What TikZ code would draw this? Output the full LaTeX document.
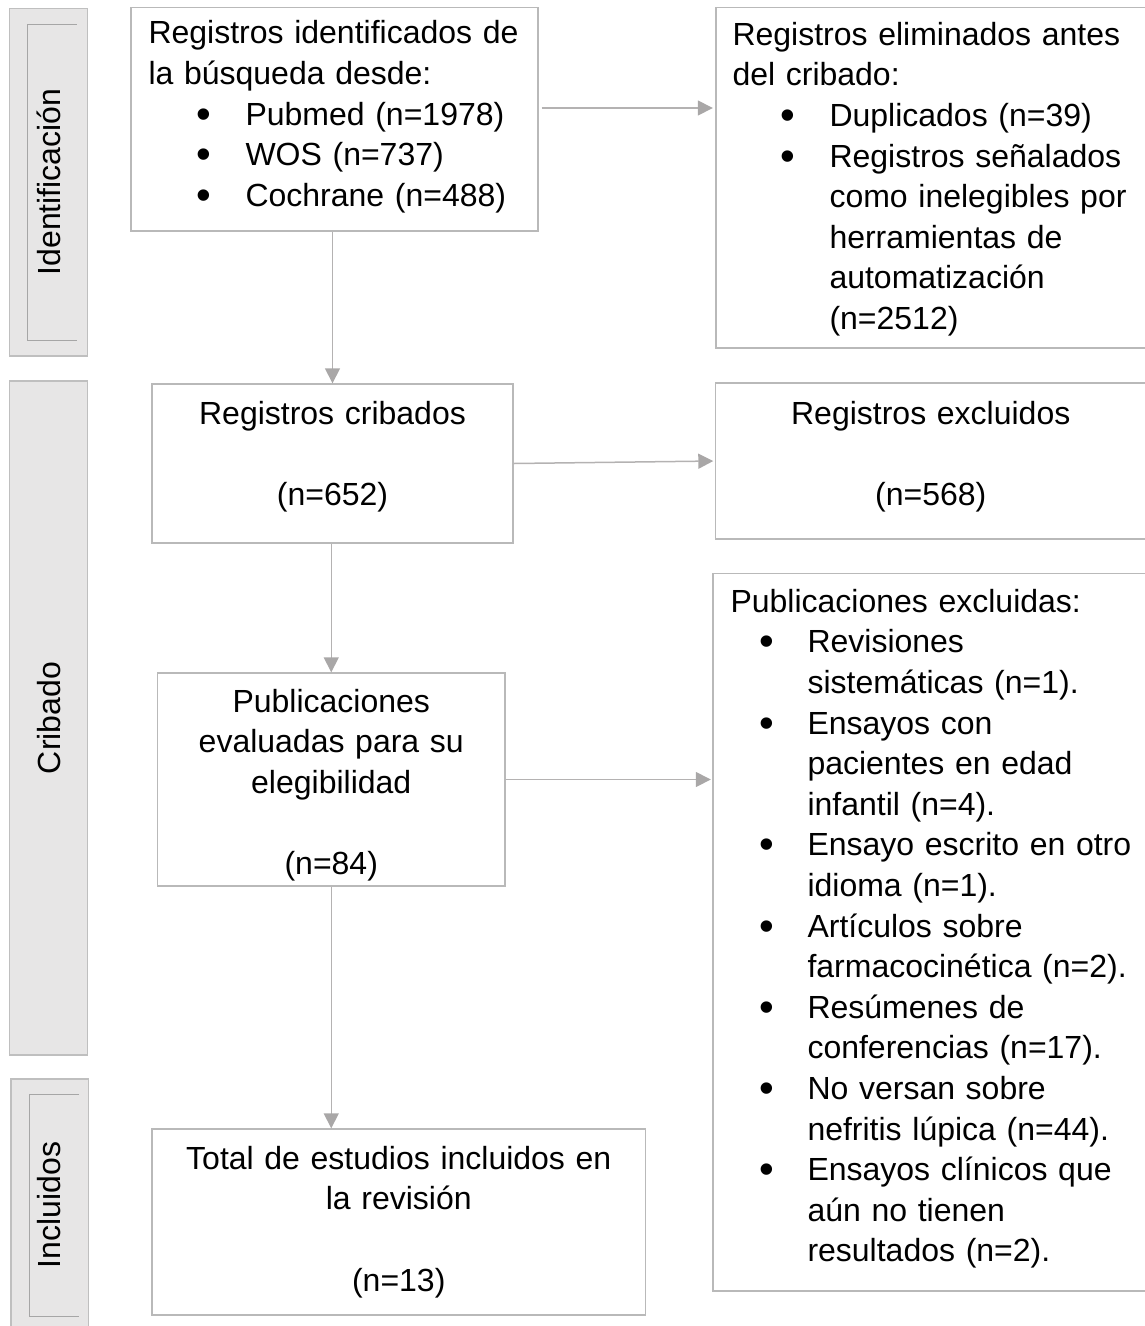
\documentclass[tikz,border=0pt]{standalone}
\usepackage{fontspec}
\setmainfont{Liberation Sans}
\usetikzlibrary{arrows.meta,positioning,calc}
\definecolor{Frame}{HTML}{B9B9B9}
\definecolor{Flow}{HTML}{B4B2B2}
\definecolor{FlowTip}{HTML}{A9A7A7}
\definecolor{Band}{HTML}{E7E6E6}
\definecolor{BandRim}{HTML}{BFBFBF}
\definecolor{Rule}{HTML}{A6A6A6}
\newcommand{\fs}{\fontsize{32}{40.6}\selectfont}
\newcommand{\bigdot}{\raisebox{-3pt}{\fontsize{42}{40}\selectfont\textbullet}}
\newcommand{\itmA}[1]{\mbox{\hspace*{48pt}\makebox[49pt][l]{\bigdot}#1}}
\newcommand{\contA}[1]{\mbox{\hspace*{97pt}#1}}
\newcommand{\itmB}[1]{\mbox{\hspace*{29pt}\makebox[48pt][l]{\bigdot}#1}}
\newcommand{\contB}[1]{\mbox{\hspace*{77pt}#1}}
\tikzset{
  box/.style={draw=Frame,line width=1.4pt,fill=white,inner sep=0pt},
  band/.style={draw=BandRim,line width=1.2pt,fill=Band,inner sep=0pt},
  bandlab/.style={font=\fs,rotate=90,anchor=base,inner sep=0pt},
  brk/.style={draw=Rule,line width=1pt},
  body/.style={font=\fs,align=left,anchor=base west,inner sep=0pt,text width=#1},
  mid/.style={font=\fs,align=center,anchor=base,inner sep=0pt,text width=#1},
  flow/.style={draw=Flow,line width=1.5pt,-{Triangle[length=15pt,width=15pt,color=FlowTip]}}
}

\begin{document}
\begin{tikzpicture}[x=1pt,y=-1pt]
  \useasboundingbox (0,0) rectangle (1145,1326);

  % phase bands
  \node[band,minimum width=78pt,minimum height=347.7pt] (idband) at (48.3,182.2) {};
  \node[band,minimum width=78pt,minimum height=674pt] (crband) at (48.3,718) {};
  \node[band,minimum width=77.3pt,minimum height=260pt] (inband) at (49.6,1209) {};
  \draw[brk] (76.7,24) -| (27.3,340) -- (76.7,340);
  \draw[brk] (79,1094) -| (29.3,1316) -- (79,1316);
  \node[bandlab] (idlab) at (60,182) {Identificación};
  \node[bandlab] (crlab) at (60,718) {Cribado};
  \node[bandlab] (inlab) at (60,1205) {Incluidos};

  % boxes
  \node[box,minimum width=407pt,minimum height=223.5pt] (ident) at (334.5,119.25) {};
  \node[box,minimum width=430pt,minimum height=340.5pt] (elim) at (931,177.75) {};
  \node[box,minimum width=361pt,minimum height=159pt] (scr) at (332.5,463.5) {};
  \node[box,minimum width=430.5pt,minimum height=156pt] (excl) at (930.75,461) {};
  \node[box,minimum width=347.5pt,minimum height=213pt] (eval) at (331.25,779.5) {};
  \node[box,minimum width=433pt,minimum height=717.5pt] (pubex) at (929.5,932.25) {};
  \node[box,minimum width=493.5pt,minimum height=186pt] (incl) at (398.75,1222) {};

  % texts
  \node[body=383pt] (identtxt) at ([shift={(18,37)}]ident.north west)
    {Registros identificados de\\ la búsqueda desde:\\ \itmA{Pubmed (n=1978)}\\
     \itmA{WOS (n=737)}\\ \itmA{Cochrane (n=488)}};
  \node[body=396pt] (elimtxt) at ([shift={(17,38.5)}]elim.north west)
    {Registros eliminados antes\\ del cribado:\\ \itmA{Duplicados (n=39)}\\
     \itmA{Registros señalados}\\ \contA{como inelegibles por}\\ \contA{herramientas de}\\
     \contA{automatización}\\ \contA{(n=2512)}};
  \node[mid=361pt] (scrtxt) at ([yshift=-41pt]scr.north) {Registros cribados\\[40.6pt] (n=652)};
  \node[mid=430pt] (excltxt) at ([yshift=-42pt]excl.north) {Registros excluidos\\[40.6pt] (n=568)};
  \node[mid=347pt] (evaltxt) at ([yshift=-40pt]eval.north)
    {Publicaciones\\ evaluadas para su\\ elegibilidad\\[40.6pt] (n=84)};
  \node[body=397pt] (pubextxt) at ([shift={(18,39.5)}]pubex.north west)
    {Publicaciones excluidas:\\ \itmB{Revisiones}\\ \contB{sistemáticas (n=1).}\\
     \itmB{Ensayos con}\\ \contB{pacientes en edad}\\ \contB{infantil (n=4).}\\
     \itmB{Ensayo escrito en otro}\\ \contB{idioma (n=1).}\\
     \itmB{Artículos sobre}\\ \contB{farmacocinética (n=2).}\\
     \itmB{Resúmenes de}\\ \contB{conferencias (n=17).}\\
     \itmB{No versan sobre}\\ \contB{nefritis lúpica (n=44).}\\
     \itmB{Ensayos clínicos que}\\ \contB{aún no tienen}\\ \contB{resultados (n=2).}};
  \node[mid=493pt] (incltxt) at ([yshift=-41pt]incl.north)
    {Total de estudios incluidos en\\ la revisión\\[40.6pt] (n=13)};

  % arrows
  \coordinate (idout) at ([shift={(3,-11.25)}]ident.east);
  \draw[flow,shorten >=2.5pt] (idout) -- (idout -| elim.west);
  \draw[flow,shorten >=1.5pt] (scr.east) -- (excl.west);
  \draw[flow,shorten >=1.5pt] (eval.east) -- (eval.east -| pubex.west);
  \draw[flow] (scr.north |- ident.south) -- (scr.north);
  \draw[flow] (eval.north |- scr.south) -- (eval.north);
  \draw[flow] (eval.south) -- (eval.south |- incl.north);
\end{tikzpicture}
\end{document}
